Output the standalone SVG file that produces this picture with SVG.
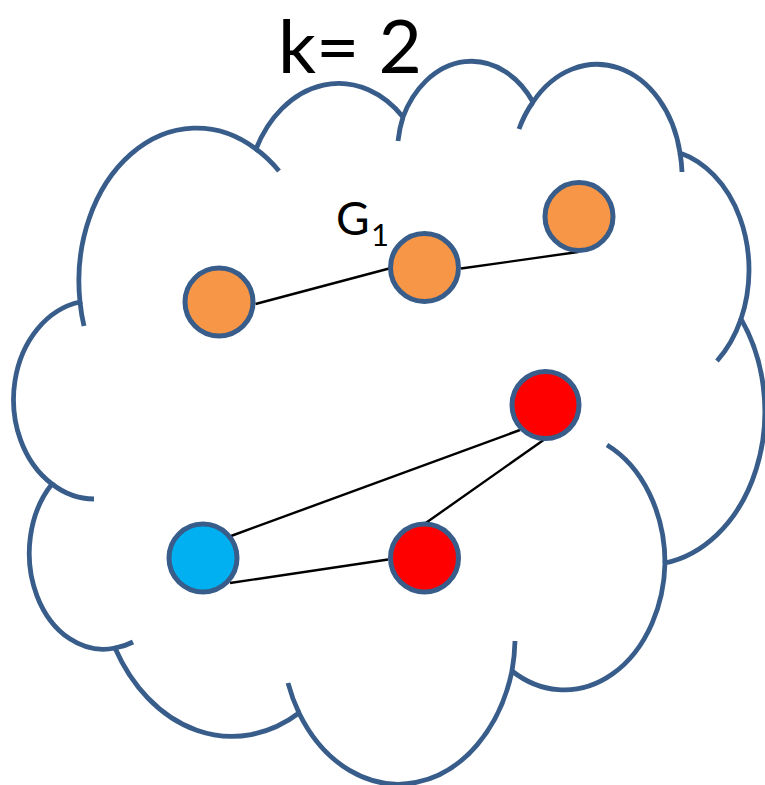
<svg xmlns="http://www.w3.org/2000/svg" width="765" height="785" viewBox="0 0 765 785">
  <style>
    .cloud { fill: #ffffff; stroke: #385D8A; stroke-width: 4.8; stroke-linejoin: miter; }
    .tick { fill: none; stroke: #385D8A; stroke-width: 4.8; stroke-linecap: butt; }
    .edge { stroke: #000000; stroke-width: 2.4; fill: none; }
    .node { stroke: #385D8A; stroke-width: 5; }
    .orange { fill: #F79646; }
    .red { fill: #FF0000; }
    .blue { fill: #00B0F0; }
    .label { font-family: Lato, "Liberation Sans", sans-serif; fill: #000000; }
  </style>
  <rect x="0" y="0" width="765" height="785" fill="#ffffff"/>

  <g id="title">
    <text class="label" x="278" y="73" font-size="73" textLength="144" lengthAdjust="spacingAndGlyphs">k= 2</text>
  </g>

  <g id="cloud">
    <path class="cloud" d="M 80 302
      A 117.7 152.9 0 0 1 256 149
      A 93.0 120.9 0 0 1 403 117
      A 76.1 98.9 0 0 1 533 102
      A 84.7 109.7 0 0 1 680 153
      A 93.0 121.0 0 0 1 741 319
      A 118.1 153.4 0 0 1 665 563
      A 100.8 130.9 0 0 1 512 671
      A 117.7 153.3 0 0 1 299 713
      A 134.6 175.4 0 0 1 115 648
      A 74 96 0 0 1 52 484
      A 80 98.9 0 0 1 80 302 Z"/>
    <path class="tick" d="M 94 499 A 80 98.9 0 0 1 52 484
      M 133 642 A 74 96 0 0 1 115 648
      M 299 713 A 117.7 153.3 0 0 1 288 683
      M 515 641 A 117.7 153.3 0 0 1 512 671
      M 607 445 A 100.8 130.9 0 0 1 665 563
      M 741 319 A 93 121 0 0 1 717 361
      M 680 153 A 84.7 109.7 0 0 1 682 172
      M 519 129 A 84.7 109.7 0 0 1 533 102
      M 398 141 A 76.1 98.9 0 0 1 403 117
      M 256 149 A 117.7 152.9 0 0 1 279 171
      M 84 326 A 117.7 152.9 0 0 1 80 302"/>
  </g>

  <g id="connectors">
    <line class="edge" x1="255.5" y1="304" x2="391" y2="268"/>
    <line class="edge" x1="461" y1="268.5" x2="578" y2="252"/>
    <line class="edge" x1="231" y1="536" x2="520" y2="430"/>
    <line class="edge" x1="545" y1="439" x2="425" y2="523.5"/>
    <line class="edge" x1="230" y1="583" x2="388" y2="559.5"/>
  </g>

  <g id="g1-label">
    <text class="label" x="336" y="235" font-size="46">G</text>
    <text class="label" x="371" y="246" font-size="31">1</text>
  </g>

  <g id="node-orange-1"><circle class="node orange" cx="219" cy="302" r="34"/></g>
  <g id="node-orange-2"><circle class="node orange" cx="424.5" cy="267.5" r="34"/></g>
  <g id="node-orange-3"><circle class="node orange" cx="579" cy="216.5" r="34"/></g>
  <g id="node-red-1"><circle class="node red" cx="545.5" cy="405" r="33.5"/></g>
  <g id="node-blue"><circle class="node blue" cx="203" cy="558" r="34"/></g>
  <g id="node-red-2"><circle class="node red" cx="424.5" cy="558" r="34"/></g>
</svg>
